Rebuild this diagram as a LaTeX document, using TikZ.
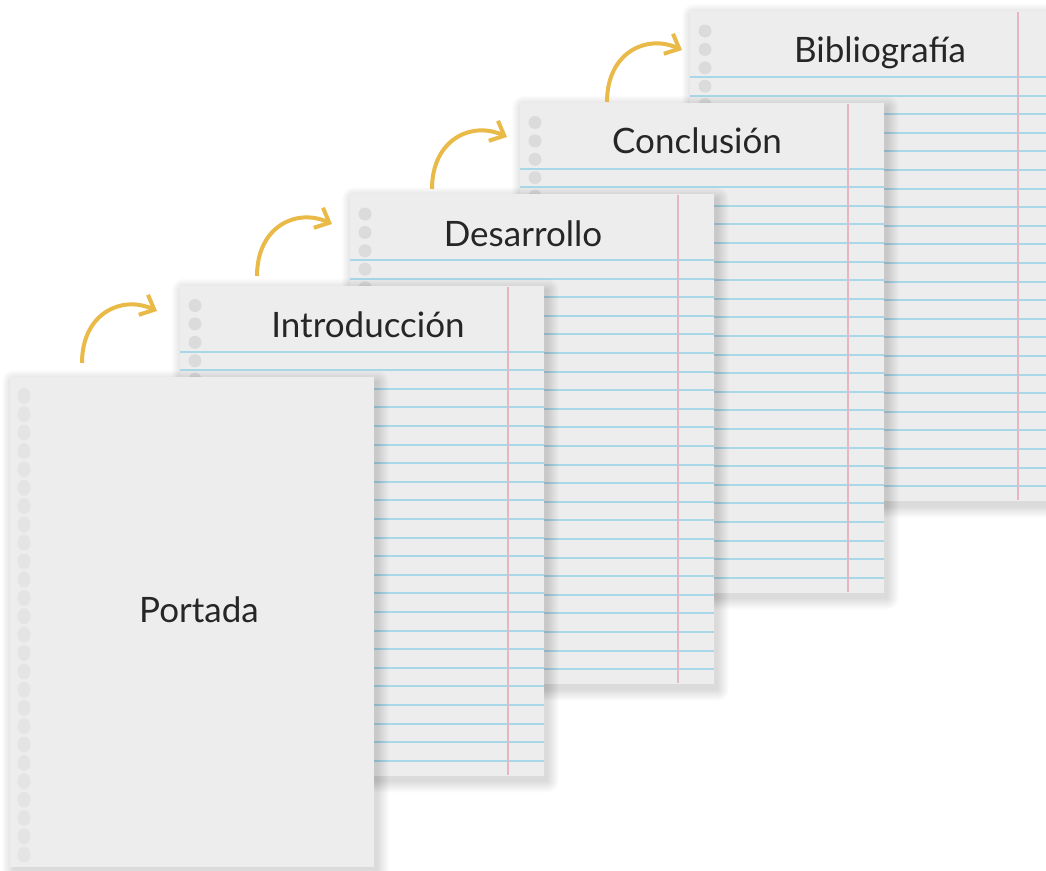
\documentclass[tikz,border=0pt]{standalone}
\usepackage{fontspec}
\setmainfont{Lato}
\usetikzlibrary{arrows.meta,positioning,calc}
\definecolor{paper}{RGB}{237,237,237}
\definecolor{ruleblue}{RGB}{168,216,232}
\definecolor{marginred}{RGB}{232,182,192}
\definecolor{holegray}{RGB}{219,219,219}
\definecolor{coverhole}{RGB}{228,228,228}
\definecolor{arrowgold}{RGB}{233,186,72}
\definecolor{inkdark}{RGB}{38,38,38}

\begin{document}
\begin{tikzpicture}[
    x=1pt, y=-1pt,
    sheet/.style={rectangle, fill=paper, minimum width=364pt, minimum height=490pt, inner sep=0pt, anchor=north west},
    haze/.style={black, opacity=0.012},
    rule/.style={ruleblue, line width=2pt},
    margin/.style={marginred, line width=2pt},
    title/.style={font=\fontsize{35}{42}\selectfont, text=inkdark, anchor=base},
    flow/.style={arrowgold, line width=4pt, -{Straight Barb[length=12pt, width=22pt]}}
]
    \useasboundingbox (0,0) rectangle (1046,870);
    \fill[white] (0,0) rectangle (1046,870);
    \clip (0,0) rectangle (1046,870);

    % ruled sheets, back to front
    \foreach \i/\name in {4/bib, 3/conc, 2/des, 1/intro} {
        \foreach \s in {1,...,12}
            \fill[haze, rounded corners=\s pt] (10+170*\i+4-\s, 377-91.5*\i+5-\s) rectangle (10+170*\i+367+\s, 377-91.5*\i+495+\s);
        \node[sheet] (\name) at (10+170*\i, 377-91.5*\i) {};
        \foreach \k in {0,...,22}
            \draw[rule] ($(\name.north west)+(0,66+18.6*\k)$) -- ++(364,0);
        \draw[margin] ($(\name.north west)+(328,1)$) -- ++(0,488);
        \foreach \k in {0,...,25}
            \fill[holegray] ($(\name.north west)+(15,20+18.4*\k)$) circle (6.5);
    }

    % front cover
    \foreach \s in {1,...,12}
        \fill[haze, rounded corners=\s pt] (14-\s, 382-\s) rectangle (377+\s, 872+\s);
    \node[sheet] (cover) at (10,377) {};
    \foreach \k in {0,...,25}
        \fill[coverhole] ($(cover.north west)+(14,19+18.35*\k)$) ellipse (6.5 and 8);

    \node[title] (tbib) at ($(bib.north west)+(190,51)$) {Bibliografía};
    \node[title] (tconc) at ($(conc.north west)+(177,51)$) {Conclusión};
    \node[title] (tdes) at ($(des.north west)+(173,52)$) {Desarrollo};
    \node[title] (tintro) at ($(intro.north west)+(188,52)$) {Introducción};
    \node[title] (tcover) at ($(cover.north west)+(189,245)$) {Portada};

    % arrows between sheets
    \foreach \k in {0,...,3} {
        \coordinate (from\k) at (82+175*\k, 363-87*\k);
        \coordinate (to\k) at (157+175*\k, 311-87*\k);
        \draw[flow] (from\k) .. controls +(0,-50) and +(-35,-16) .. (to\k);
    }
\end{tikzpicture}
\end{document}
